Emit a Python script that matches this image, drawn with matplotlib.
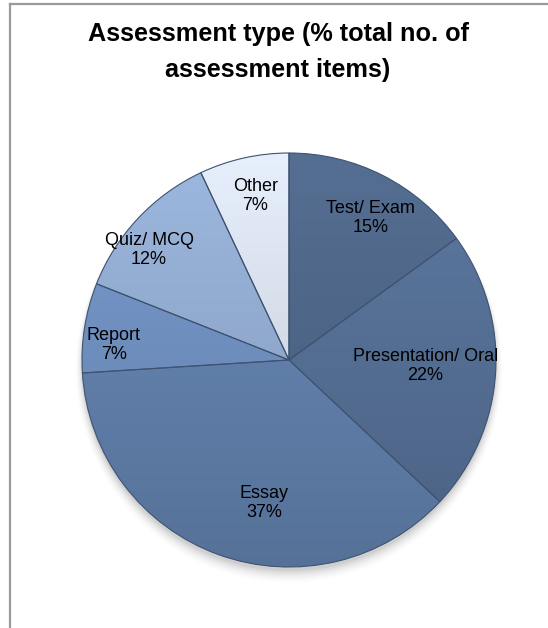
import numpy as np
import matplotlib
matplotlib.use("Agg")
import matplotlib.pyplot as plt
from matplotlib.colors import to_rgb

plt.rcParams['font.family'] = ['Liberation Sans', 'DejaVu Sans']

# data
labels = ['Test/ Exam', 'Presentation/ Oral', 'Essay', 'Report', 'Quiz/ MCQ', 'Other']
shares = [15, 22, 37, 7, 12, 7]
colors = ['#4c6485', '#536d92', '#5f7ea9', '#6d8dbd', '#8fa8cc', '#d3dbe7']
# label placement (fraction of radius, angle nudge in degrees)
label_r = [0.79, 0.66, 0.70, 0.85, 0.86, 0.81]
label_da = [-3, 1, 10, 4, 5, -1]

fig = plt.figure(figsize=(5.48, 6.28), dpi=100)
fig.patch.set_facecolor('white')

# chart frame (open at right and bottom like the cropped original)
fig.add_artist(plt.Line2D([10/548, 10/548], [0, 1 - 3.5/628], color='#9a9a9a', lw=1.6))
fig.add_artist(plt.Line2D([10/548, 1], [1 - 3.5/628, 1 - 3.5/628], color='#9a9a9a', lw=1.6))

fig.text(278/548, 1 - 34/628, 'Assessment type (% total no. of', ha='center', va='center',
         fontsize=18.2, fontweight='bold')
fig.text(278/548, 1 - 70/628, 'assessment items)', ha='center', va='center',
         fontsize=18.2, fontweight='bold')

# pie axes: center (289, 360), radius ~207 px
r_px = 207
cx, cy = 289, 360
ax = fig.add_axes([(cx - r_px) / 548, 1 - (cy + r_px) / 628, 2 * r_px / 548, 2 * r_px / 628])
ax.axis('off')

# soft shadow under the pie
for i, a in enumerate(np.linspace(0.05, 0.012, 6)):
    sh = plt.Circle((0.0, -0.02 - i * 0.005), 1.0 + i * 0.006, color='black', alpha=a, lw=0, zorder=0,
                    clip_on=False)
    ax.add_patch(sh)

wedges, _ = ax.pie(shares, colors=colors, startangle=90, counterclock=False, radius=1.0,
                   wedgeprops=dict(edgecolor='#3f5371', linewidth=0.8))

# vertical gradient in each wedge (lighter top, darker bottom)
yy = np.linspace(1, -1, 200)[:, None] * np.ones((1, 2))
for w, c in zip(wedges, colors):
    rgb = np.array(to_rgb(c))
    top = np.clip(rgb * 1.08 + 0.01, 0, 1)
    bot = rgb * 0.90
    t = (1 - yy) / 2
    img = top[None, None, :] * (1 - t[..., None]) + bot[None, None, :] * t[..., None]
    im = ax.imshow(img, extent=[-1, 1, -1, 1], origin='upper', zorder=w.get_zorder() + 0.1,
                   aspect='auto', interpolation='bilinear')
    im.set_clip_path(w)
    w.set_facecolor('none')
    w.set_zorder(w.get_zorder() + 0.2)

total = sum(shares)
start = 90.0
for lab, s, rr, da in zip(labels, shares, label_r, label_da):
    sweep = 360.0 * s / total
    mid = np.deg2rad(start - sweep / 2 + da)
    start -= sweep
    ax.text(rr * np.cos(mid), rr * np.sin(mid), f'{lab}\n{s}%', ha='center', va='center',
            fontsize=13, color='black', linespacing=1.15, zorder=10)

ax.set_xlim(-1, 1)
ax.set_ylim(-1, 1)
ax.set_aspect('equal')

fig.savefig('out.png', dpi=100, facecolor='white')
